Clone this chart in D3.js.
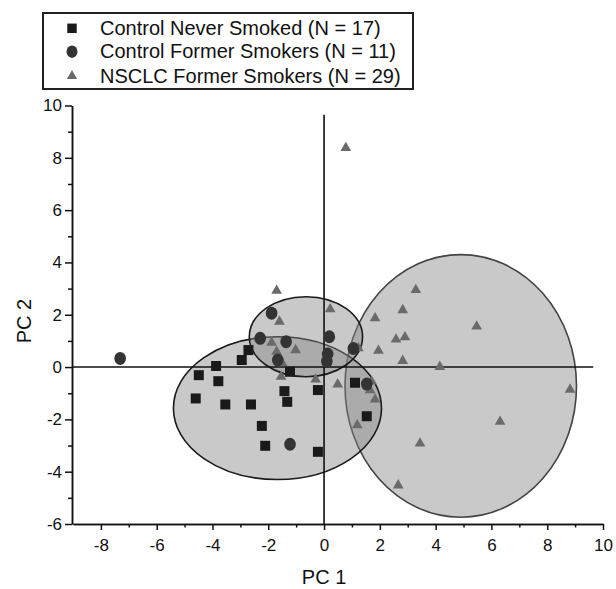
<!DOCTYPE html>
<html>
<head>
<meta charset="utf-8">
<script src="https://cdn.jsdelivr.net/npm/d3@7"></script>
<style>
body { margin: 0; background: #fff; }
svg text { font-family: "Liberation Sans", Arial, sans-serif; fill: #111; }
.axis path, .axis line { stroke: #111; stroke-width: 1.5; }
.axis text { font-size: 17px; }
</style>
</head>
<body>
<div id="chart"></div>
<script>
//Data (PC 1, PC 2)
const neverSmoked = [
    [-2.71, 0.65], [-2.95, 0.27], [-3.87, 0.04], [-4.49, -0.31], [-3.79, -0.54],
    [-4.60, -1.20], [-3.54, -1.43], [-2.62, -1.43], [-1.22, -0.18], [-1.42, -0.92],
    [-1.32, -1.33], [-2.23, -2.25], [-2.11, -3.01], [-0.22, -0.88], [-0.22, -3.24],
    [1.11, -0.60], [1.53, -1.88]
];
const formerSmokers = [
    [-7.31, 0.33], [-1.88, 2.06], [-2.29, 1.10], [-1.36, 0.97], [-1.66, 0.27],
    [0.19, 1.16], [0.13, 0.50], [0.10, 0.22], [-1.22, -2.95], [1.05, 0.71],
    [1.53, -0.65]
];
const nsclc = [
    [-1.70, 2.92], [-1.60, 1.74], [-1.88, 0.93], [-1.70, 0.59], [-1.02, 0.65],
    [-1.54, -0.37], [-1.50, 0.15], [0.22, 2.21], [-0.30, -0.47], [0.49, -0.66],
    [1.19, -2.22], [1.83, 1.87], [1.95, 0.63], [0.78, 8.38], [3.29, 2.95],
    [2.82, 2.18], [5.47, 1.55], [2.58, 1.06], [2.90, 1.14], [2.82, 0.24],
    [4.15, 0.01], [1.23, 0.72], [8.82, -0.86], [6.31, -2.09], [3.44, -2.92],
    [2.66, -4.52], [1.83, -1.24], [1.65, -0.88], [1.70, -0.55]
];
//confidence ellipses: centre x, centre y, radius x, radius y
const ellipses = [
    [4.90, -0.72, 4.15, 5.02],
    [-1.67, -1.57, 3.73, 2.73],
    [-0.65, 1.16, 2.03, 1.53]
];
const legendLabels = [
    "Control Never Smoked (N = 17)",
    "Control Former Smokers (N = 11)",
    "NSCLC Former Smokers (N = 29)"
];
const xTicks = [-8, -6, -4, -2, 0, 2, 4, 6, 8, 10];
const xMinor = [-7, -5, -3, -1, 1, 3, 5, 7, 9];
const yTicks = [-6, -4, -2, 0, 2, 4, 6, 8, 10];
const yMinor = [-5, -3, -1, 1, 3, 5, 7, 9];

const width = 616;
const height = 589;

const svg = d3.select("#chart")
    .append("svg")
    .attr("width", width)
    .attr("height", height);

//Scales
const x = d3.scaleLinear().domain([-9, 10]).range([73, 603]);
const y = d3.scaleLinear().domain([-6, 10]).range([524, 105.5]);

//Ellipses
svg.append("g")
    .selectAll("ellipse")
    .data(ellipses)
    .enter()
    .append("ellipse")
    .attr("cx", d => x(d[0]))
    .attr("cy", d => y(d[1]))
    .attr("rx", d => x(d[2]) - x(0))
    .attr("ry", d => y(0) - y(d[3]))
    .attr("fill", "#888")
    .attr("fill-opacity", 0.45)
    .attr("stroke", (d, i) => i === 0 ? "#444" : "#1a1a1a")
    .attr("stroke-width", 1.6);

//Crosshair at origin
svg.append("line")
    .attr("x1", x(-9)).attr("x2", x(9.65))
    .attr("y1", y(0)).attr("y2", y(0))
    .attr("stroke", "#111").attr("stroke-width", 1.6);
svg.append("line")
    .attr("x1", x(0)).attr("x2", x(0))
    .attr("y1", y(-6)).attr("y2", y(9.65))
    .attr("stroke", "#111").attr("stroke-width", 1.6);

//Axes - major ticks with labels (plain hyphen minus), minor ticks without
const plain = d => String(d);

svg.append("g")
    .attr("class", "axis")
    .attr("transform", "translate(0," + y(-6) + ")")
    .call(d3.axisBottom(x).tickValues(xTicks).tickSize(6).tickSizeOuter(0).tickPadding(9).tickFormat(plain));
svg.append("g")
    .attr("class", "axis")
    .attr("transform", "translate(0," + y(-6) + ")")
    .call(d3.axisBottom(x).tickValues(xMinor).tickSize(3.5).tickSizeOuter(0).tickFormat(""));

svg.append("g")
    .attr("class", "axis")
    .attr("transform", "translate(72,0)")
    .call(d3.axisLeft(y).tickValues(yTicks).tickSize(7).tickSizeOuter(0).tickPadding(3).tickFormat(plain));
svg.append("g")
    .attr("class", "axis")
    .attr("transform", "translate(72,0)")
    .call(d3.axisLeft(y).tickValues(yMinor).tickSize(4).tickSizeOuter(0).tickFormat(""));

//Points
const squareSym = d3.symbol().type(d3.symbolSquare).size(100);
const triSym = d3.symbol().type(d3.symbolTriangle).size(50);

svg.append("g")
    .selectAll("path")
    .data(nsclc)
    .enter()
    .append("path")
    .attr("d", triSym)
    .attr("transform", d => "translate(" + x(d[0]) + "," + y(d[1]) + ")")
    .attr("fill", "#6a6a6a");

svg.append("g")
    .selectAll("ellipse")
    .data(formerSmokers)
    .enter()
    .append("ellipse")
    .attr("cx", d => x(d[0]))
    .attr("cy", d => y(d[1]))
    .attr("rx", 5.8)
    .attr("ry", 6.5)
    .attr("fill", "#333");

svg.append("g")
    .selectAll("path")
    .data(neverSmoked)
    .enter()
    .append("path")
    .attr("d", squareSym)
    .attr("transform", d => "translate(" + x(d[0]) + "," + y(d[1]) + ")")
    .attr("fill", "#1a1a1a");

//Axis labels
svg.append("text")
    .attr("x", x(0))
    .attr("y", 584)
    .attr("text-anchor", "middle")
    .style("font-size", "20px")
    .text("PC 1");

svg.append("text")
    .attr("transform", "translate(31,321) rotate(-90)")
    .attr("text-anchor", "middle")
    .style("font-size", "20px")
    .text("PC 2");

//Legend
svg.append("rect")
    .attr("x", 43)
    .attr("y", 13)
    .attr("width", 370)
    .attr("height", 76)
    .attr("fill", "#fff")
    .attr("stroke", "#222")
    .attr("stroke-width", 2);

const rowY = [28.3, 51.7, 76];
svg.append("path")
    .attr("d", d3.symbol().type(d3.symbolSquare).size(90))
    .attr("transform", "translate(72," + rowY[0] + ")")
    .attr("fill", "#1a1a1a");
svg.append("ellipse")
    .attr("cx", 72).attr("cy", rowY[1])
    .attr("rx", 5.5).attr("ry", 6.2)
    .attr("fill", "#333");
svg.append("path")
    .attr("d", d3.symbol().type(d3.symbolTriangle).size(45))
    .attr("transform", "translate(72," + rowY[2] + ")")
    .attr("fill", "#6a6a6a");

svg.append("g")
    .selectAll("text")
    .data(legendLabels)
    .enter()
    .append("text")
    .attr("x", 100)
    .attr("y", (d, i) => rowY[i] + 6.5)
    .style("font-size", "20px")
    .text(d => d);
</script>
</body>
</html>
